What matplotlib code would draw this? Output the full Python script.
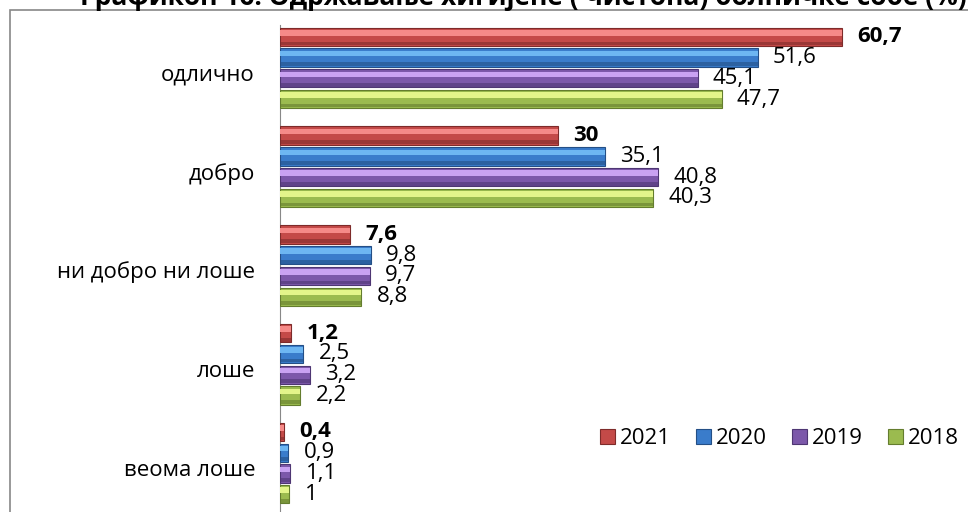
import numpy as np
import matplotlib
matplotlib.use('Agg')
import matplotlib.pyplot as plt
from matplotlib.patches import Rectangle

plt.rcParams['font.family'] = ['Open Sans', 'DejaVu Sans']

# data
categories = ['одлично', 'добро', 'ни добро ни лоше', 'лоше', 'веома лоше']
years = ['2021', '2020', '2019', '2018']
v2021 = [60.7, 30, 7.6, 1.2, 0.4]
v2020 = [51.6, 35.1, 9.8, 2.5, 0.9]
v2019 = [45.1, 40.8, 9.7, 3.2, 1.1]
v2018 = [47.7, 40.3, 8.8, 2.2, 1]

series = [v2021, v2020, v2019, v2018]
body = ['#C44A48', '#3A7CCB', '#7C58AA', '#9BBB4F']
light = ['#F58A88', '#6DB6F2', '#C9A2F2', '#E3F58A']
dark = ['#7E2B2A', '#244F86', '#4E3673', '#647D2E']
offsets = [-0.32, -0.11, 0.1, 0.31]
h = 0.185

fig = plt.figure(figsize=(9.68, 5.12), dpi=100)
ax = fig.add_axes([280 / 968, 0, 688 / 968, 487 / 512])

y = np.arange(len(categories)) - 0.04
for i, vals in enumerate(series):
    pos = y + offsets[i]
    ax.barh(pos, vals, height=h, color=body[i], edgecolor=dark[i], linewidth=0.8,
            label=years[i], zorder=3)
    # bevel: light strip on top, darker strip at the bottom
    ax.barh(pos - h * 0.22, vals, height=h * 0.3, color=light[i], linewidth=0,
            zorder=4)
    ax.barh(pos + h * 0.36, vals, height=h * 0.2, color=dark[i], alpha=0.6,
            linewidth=0, zorder=4)
    for p, v in zip(pos, vals):
        txt = ('%g' % v).replace('.', ',')
        ax.annotate(txt, (v, p), xytext=(11, 0), textcoords='offset points',
                    va='center', ha='left', fontsize=16,
                    fontweight='bold' if i == 0 else 'normal', zorder=5)

ax.set_xlim(0, 74.3)
ax.set_ylim(4.45, -0.48)
ax.set_yticks(np.arange(len(categories)))
ax.set_yticklabels(categories, fontsize=16)
ax.tick_params(axis='y', length=0, pad=18)
ax.set_xticks([])
for s in ['top', 'right', 'bottom']:
    ax.spines[s].set_visible(False)
ax.spines['left'].set_color('#888888')

ax.legend(loc='center left', bbox_to_anchor=(0.465, 0.15), ncol=4, frameon=False,
          fontsize=16, handlelength=0.7, handleheight=0.7, handletextpad=0.2,
          columnspacing=1.12, borderaxespad=0, borderpad=0)

# outer chart frame
fig.patches.append(Rectangle((10 / 968, -0.01), 1.0, (512 - 9.5) / 512 + 0.01,
                             transform=fig.transFigure, fill=False,
                             edgecolor='#888888', linewidth=1.2))

# title, clipped by top edge as in the source
fig.text(80 / 968, 1 - 5 / 512, 'Графикон 16. Одржавање хигијене ( чистоћа) болничке собе (%)',
         fontsize=19, fontweight='bold', ha='left', va='baseline')

fig.savefig('out.png', dpi=100)
